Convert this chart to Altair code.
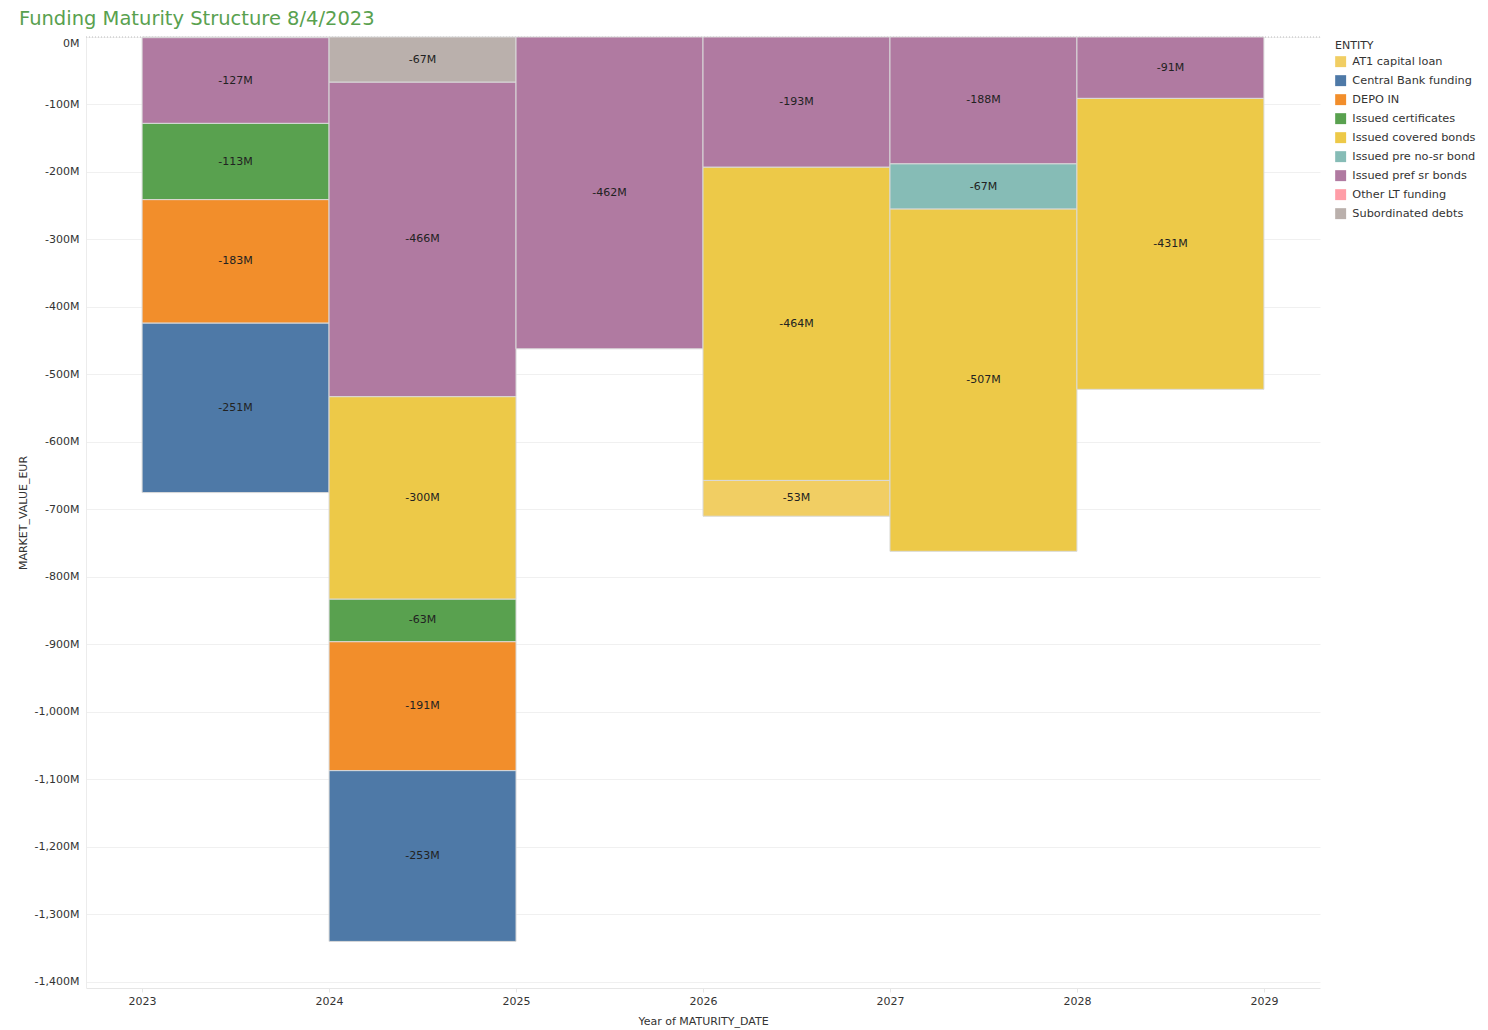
import altair as alt
import pandas as pd

years = [2023, 2023, 2023, 2023, 2023,
         2024, 2024, 2024, 2024, 2024, 2024,
         2025,
         2026, 2026, 2026,
         2027, 2027, 2027,
         2028, 2028]
entities = ["Other LT funding", "Issued pref sr bonds", "Issued certificates", "DEPO IN", "Central Bank funding",
            "Subordinated debts", "Issued pref sr bonds", "Issued covered bonds", "Issued certificates", "DEPO IN", "Central Bank funding",
            "Issued pref sr bonds",
            "Issued pref sr bonds", "Issued covered bonds", "AT1 capital loan",
            "Issued pref sr bonds", "Issued pre no-sr bond", "Issued covered bonds",
            "Issued pref sr bonds", "Issued covered bonds"]
values = [-1, -127, -113, -183, -251,
          -67, -466, -300, -63, -191, -253,
          -462,
          -193, -464, -53,
          -188, -67, -507,
          -91, -431]

entity_order = ["AT1 capital loan", "Central Bank funding", "DEPO IN", "Issued certificates",
                "Issued covered bonds", "Issued pre no-sr bond", "Issued pref sr bonds",
                "Other LT funding", "Subordinated debts"]
entity_colors = ["#f1ce63", "#4e79a7", "#f28e2b", "#59a14f", "#edc948",
                 "#86bcb6", "#b07aa1", "#ff9da7", "#bab0ac"]
year_ticks = [2023, 2024, 2025, 2026, 2027, 2028, 2029]
y_ticks = [-1400, -1300, -1200, -1100, -1000, -900, -800, -700, -600, -500, -400, -300, -200, -100, 0]

df = pd.DataFrame({"year": years, "ENTITY": entities, "MARKET_VALUE_EUR": values})

FONT = "DejaVu Sans"

base = alt.Chart(df).transform_calculate(
    start="datum.year",
    end="datum.year + 1",
    mid="datum.year + 0.5",
    label="datum.MARKET_VALUE_EUR + 'M'",
).transform_stack(
    stack="MARKET_VALUE_EUR",
    groupby=["year"],
    sort=[alt.SortField("ENTITY", order="descending")],
    as_=["v0", "v1"],
).transform_calculate(vc="(datum.v0 + datum.v1) / 2")

xscale = alt.Scale(domain=[2022.7, 2029.3], nice=False, zero=False)
yscale = alt.Scale(domain=[-1409, 0], nice=False)

bars = base.mark_rect(stroke="#d9d9d9", strokeWidth=1).encode(
    x=alt.X("start:Q", scale=xscale,
            axis=alt.Axis(title="Year of MATURITY_DATE", values=year_ticks, format="d",
                          grid=False, domainColor="#e6e6e6", tickColor="#e6e6e6",
                          tickSize=4, labelPadding=3, titlePadding=9)),
    x2="end:Q",
    y=alt.Y("v0:Q", scale=yscale,
            axis=alt.Axis(title="MARKET_VALUE_EUR", values=y_ticks,
                          labelExpr="replace(format(datum.value, ','), '\u2212', '-') + 'M'",
                          labelBaseline={"condition": {"test": "datum.value == 0", "value": "top"},
                                         "value": "middle"},
                          gridColor="#f0f0f0", domainColor="#ececec", ticks=False,
                          labelPadding=7, titlePadding=6)),
    y2="v1:Q",
    color=alt.Color("ENTITY:N", scale=alt.Scale(domain=entity_order, range=entity_colors),
                    legend=alt.Legend(title="ENTITY", orient="none", legendX=1249, legendY=3,
                                      symbolType="square", symbolSize=120, symbolStrokeWidth=0,
                                      labelFontSize=11.3, titleFontSize=11, titleFontWeight="normal",
                                      titleColor="#333333", labelColor="#333333", rowPadding=6,
                                      titlePadding=5, labelOffset=6, labelFont=FONT, titleFont=FONT)),
)

labels = base.transform_filter("abs(datum.MARKET_VALUE_EUR) >= 10").mark_text(
    fontSize=11, color="#222222", font=FONT
).encode(
    x=alt.X("mid:Q", scale=xscale),
    y=alt.Y("vc:Q", scale=yscale),
    text="label:N",
)

zero_rule = alt.Chart(pd.DataFrame({"z": [0]})).mark_rule(
    color="#bbbbbb", strokeDash=[1, 2], strokeWidth=1
).encode(y=alt.Y("z:Q", scale=yscale))

chart = alt.layer(zero_rule, bars, labels).properties(
    width=1234,
    height=951,
    padding={"left": 78, "top": 29, "right": 160, "bottom": 44},
    autosize=alt.AutoSizeParams(type="none"),
    title=alt.TitleParams("Funding Maturity Structure 8/4/2023", anchor="start", frame="group",
                          dx=-67, fontSize=19.5, fontWeight="normal", color="#59a14f", font=FONT,
                          offset=7),
).configure_view(stroke=None).configure_axis(
    labelFont=FONT, titleFont=FONT, labelFontSize=11, titleFontSize=11,
    titleFontWeight="normal", labelColor="#333333", titleColor="#333333",
)

chart.save("out.html", embed_options={"renderer": "svg", "actions": False})
